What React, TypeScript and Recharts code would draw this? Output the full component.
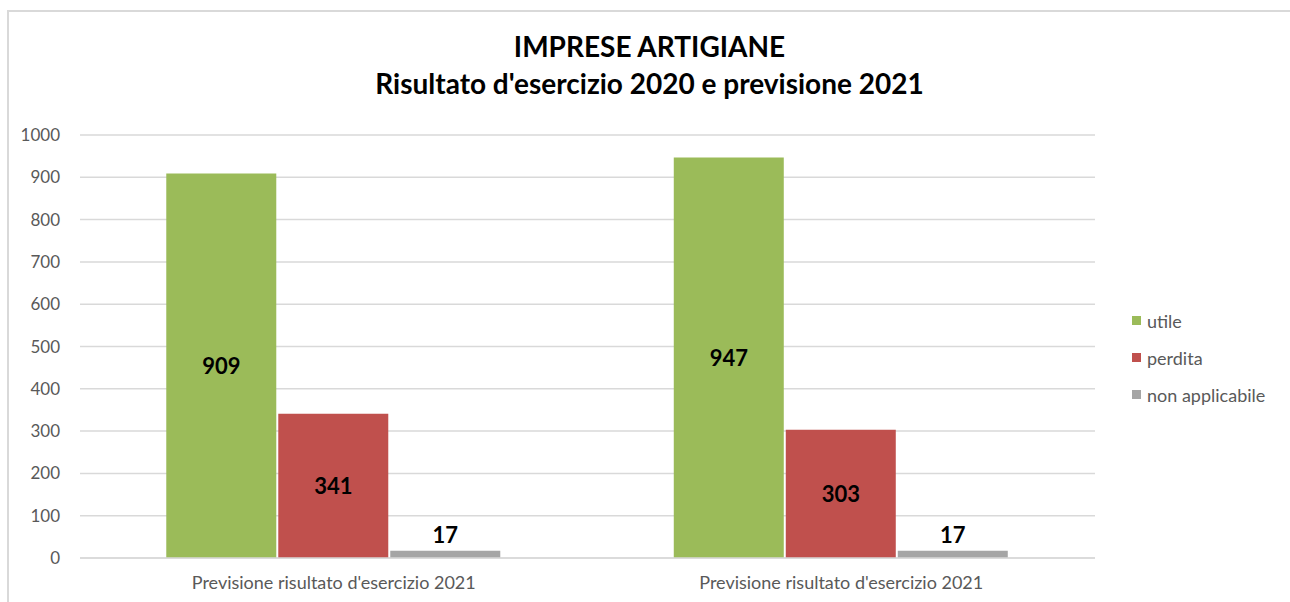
import { Bar, BarChart, CartesianGrid, LabelList, Legend, XAxis, YAxis } from "recharts";

const categories = ["Previsione risultato d'esercizio 2021", "Previsione risultato d'esercizio 2021"];
const utile = [909, 947];
const perdita = [341, 303];
const nonApplicabile = [17, 17];
const yTicks = [0, 100, 200, 300, 400, 500, 600, 700, 800, 900, 1000];

const seriesInfo = [
    { key: "utile", name: "utile", color: "#9bbb59" },
    { key: "perdita", name: "perdita", color: "#c0504d" },
    { key: "nonApplicabile", name: "non applicabile", color: "#a5a5a5" },
];

const chartData = categories.map((category, i) => ({
    category,
    utile: utile[i],
    perdita: perdita[i],
    nonApplicabile: nonApplicabile[i],
}));

const FONT = "Lato, 'Open Sans', sans-serif";

const LegendContent = () => (
    <div style={{ fontFamily: FONT, fontSize: 18, color: "#595959" }}>
        {seriesInfo.map((s) => (
            <div key={s.key} style={{ display: "flex", alignItems: "center", height: 37 }}>
                <span style={{ width: 9, height: 9, background: s.color, marginRight: 6, display: "inline-block" }} />
                <span>{s.name}</span>
            </div>
        ))}
    </div>
);

export default function App() {
    return (
        <div
            style={{
                position: "absolute",
                left: 7,
                top: 10,
                width: 1281,
                height: 596,
                border: "2px solid #d9d9d9",
                background: "#fff",
                fontFamily: FONT,
            }}
        >
            <div
                style={{
                    position: "absolute",
                    left: 0,
                    right: 0,
                    top: 16,
                    textAlign: "center",
                    fontWeight: "bold",
                    fontSize: 28,
                    lineHeight: "37px",
                    color: "#000",
                }}
            >
                <div>IMPRESE ARTIGIANE</div>
                <div>Risultato d'esercizio 2020 e previsione 2021</div>
            </div>
            <BarChart
                width={1281}
                height={596}
                data={chartData}
                margin={{ top: 123, right: 40, bottom: 20, left: 0 }}
                barCategoryGap="17%"
                barGap={2}
            >
                <CartesianGrid vertical={false} stroke="#d9d9d9" strokeWidth={1.5} />
                <XAxis
                    dataKey="category"
                    tickLine={false}
                    axisLine={{ stroke: "#d9d9d9", strokeWidth: 1.5 }}
                    tick={{ fill: "#595959", fontSize: 18, fontFamily: FONT }}
                    tickMargin={12}
                />
                <YAxis
                    domain={[0, 1000]}
                    ticks={yTicks}
                    width={71}
                    tickLine={false}
                    axisLine={false}
                    tick={{ fill: "#595959", fontSize: 17, fontFamily: FONT }}
                    tickMargin={14}
                />
                <Legend
                    layout="vertical"
                    verticalAlign="middle"
                    align="right"
                    content={<LegendContent />}
                    wrapperStyle={{ right: 3, top: 290, width: 155 }}
                />
                {seriesInfo.map((s) => (
                    <Bar key={s.key} dataKey={s.key} name={s.name} fill={s.color} isAnimationActive={false}>
                        <LabelList
                            dataKey={s.key}
                            position={s.key === "nonApplicabile" ? "top" : "center"}
                            fill="#000"
                            fontSize={22}
                            fontWeight="bold"
                            fontFamily={FONT}
                            offset={8}
                        />
                    </Bar>
                ))}
            </BarChart>
        </div>
    );
}
